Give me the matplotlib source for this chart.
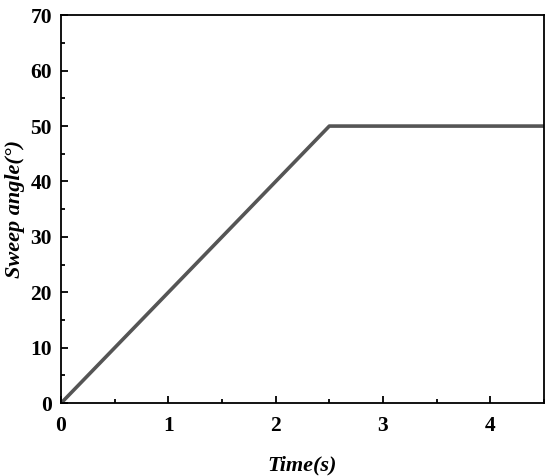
import matplotlib
matplotlib.use("Agg")
import matplotlib.pyplot as plt
from matplotlib.ticker import MultipleLocator

time_s = [0.0, 2.5, 4.5]
sweep_angle = [0.0, 50.0, 50.0]
x_ticks = [0, 1, 2, 3, 4]
y_ticks = [0, 10, 20, 30, 40, 50, 60, 70]

plt.rcParams['font.family'] = ['Liberation Serif', 'DejaVu Serif']
plt.rcParams['font.weight'] = 'bold'

fig = plt.figure(figsize=(5.5, 4.76), dpi=100)
ax = fig.add_axes([0.111, 0.153, 0.878, 0.815])
ax.plot(time_s, sweep_angle, color='#555555', lw=2.6, solid_capstyle='butt')
ax.set_xlim(0, 4.5)
ax.set_ylim(0, 70)
ax.set_xticks(x_ticks)
ax.set_yticks(y_ticks)
ax.xaxis.set_minor_locator(MultipleLocator(0.5))
ax.yaxis.set_minor_locator(MultipleLocator(5))
ax.tick_params(which='both', direction='in', top=False, right=False, width=1.3, labelsize=15.5)
ax.tick_params(which='major', length=5)
ax.tick_params(which='minor', length=3)
ax.tick_params(axis='x', which='major', pad=9)
ax.tick_params(axis='y', which='major', pad=6.5)
for lab in ax.get_xticklabels() + ax.get_yticklabels():
    lab.set_fontweight('bold')
for s in ax.spines.values():
    s.set_linewidth(1.3)
ax.set_xlabel('Time(s)', fontsize=16, fontweight='bold', style='italic', labelpad=14)
ax.set_ylabel('Sweep angle(°)', fontsize=16, fontweight='bold', style='italic', labelpad=4)
fig.savefig('out.png', dpi=100)
